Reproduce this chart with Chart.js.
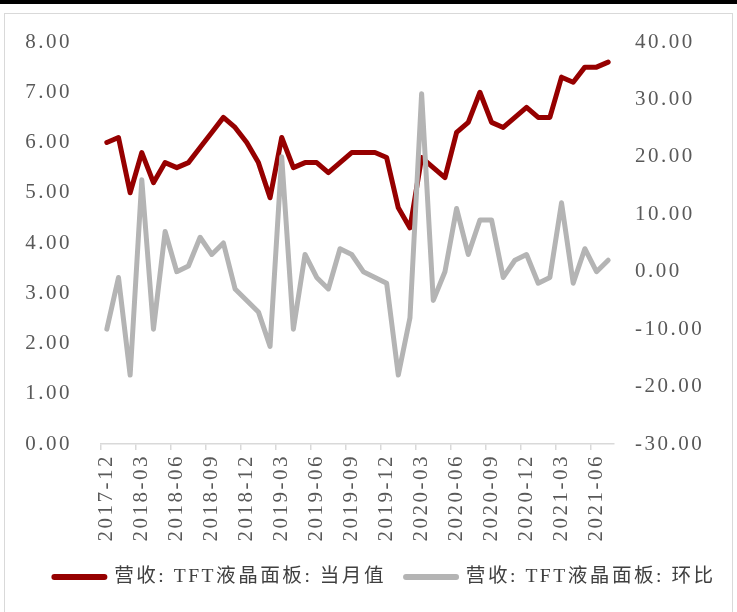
<!DOCTYPE html>
<html><head><meta charset="utf-8">
<script src="https://cdn.jsdelivr.net/npm/chart.js@4/dist/chart.umd.min.js"></script>
<style>
html,body{margin:0;padding:0;background:#fff;}
#wrap{position:relative;width:737px;height:612px;overflow:hidden;background:#fff;}
#topbar{position:absolute;left:0;top:0;width:737px;height:4px;background:#000;}
#frame{position:absolute;left:4px;top:13px;width:727px;height:640px;border:1.5px solid #d9d9d9;}
canvas{position:absolute;left:0;top:0;}
</style></head>
<body><div id="wrap"><div id="topbar"></div><div id="frame"></div><canvas id="c" width="737" height="612"></canvas></div>
<script>
const categories = [
  "2017-12","2018-01","2018-02","2018-03","2018-04","2018-05","2018-06","2018-07","2018-08","2018-09","2018-10","2018-11",
  "2018-12","2019-01","2019-02","2019-03","2019-04","2019-05","2019-06","2019-07","2019-08","2019-09","2019-10","2019-11",
  "2019-12","2020-01","2020-02","2020-03","2020-04","2020-05","2020-06","2020-07","2020-08","2020-09","2020-10","2020-11",
  "2020-12","2021-01","2021-02","2021-03","2021-04","2021-05","2021-06","2021-07"
];
const monthlyValue = [
  6.0, 6.1, 5.0, 5.8, 5.2, 5.6, 5.5, 5.6, 5.9, 6.2, 6.5, 6.3,
  6.0, 5.6, 4.9, 6.1, 5.5, 5.6, 5.6, 5.4, 5.6, 5.8, 5.8, 5.8,
  5.7, 4.7, 4.3, 5.7, 5.5, 5.3, 6.2, 6.4, 7.0, 6.4, 6.3, 6.5,
  6.7, 6.5, 6.5, 7.3, 7.2, 7.5, 7.5, 7.6
];
const momChange = [
  -10, -1, -18, 16, -10, 7, 0, 1, 6, 3, 5, -3,
  -5, -7, -13, 20, -10, 3, -1, -3, 4, 3, 0, -1,
  -2, -18, -8, 31, -5, 0, 11, 3, 9, 9, -1, 2,
  3, -2, -1, 12, -2, 4, 0, 2
];
const seriesNames = ["营收: TFT液晶面板: 当月值", "营收: TFT液晶面板: 环比"];
const leftTicks = {min: 0, max: 8, step: 1};
const rightTicks = {min: -30, max: 40, step: 10};

const RED = '#960000';
const GRAY = '#b4b4b4';
const TXT = '#595959';
const LEG_TXT = '#404040';
const AXIS = '#d9d9d9';
const LS = '2.5px';

const spacing = {
  id: 'spacing',
  beforeInit(c){ c.ctx.letterSpacing = LS; },
  beforeUpdate(c){ c.ctx.letterSpacing = LS; },
  beforeLayout(c){ c.ctx.letterSpacing = LS; },
  beforeDraw(c){ c.ctx.letterSpacing = LS; }
};

// place the legend row like the original (horizontal shift and text line)
const legendPlace = {
  id: 'legendPlace',
  afterLayout(c){
    const L = c.legend;
    if (!L) return;
    const p = L.options.labels.padding;
    const fs = L.options.labels.font.size;
    const h = L.height;
    L.top = 577 - p - fs / 2;
    L.bottom = L.top + h;
    L.left += 14;
    L.right += 14;
  }
};

const tickFont = {family: "'Liberation Serif', 'Noto Sans CJK SC', serif", size: 21};

new Chart(document.getElementById('c'), {
  type: 'line',
  data: {
    labels: categories,
    datasets: [
      {label: seriesNames[0], data: monthlyValue, yAxisID: 'y', borderColor: RED, backgroundColor: RED,
       borderWidth: 5, pointRadius: 0, tension: 0, borderJoinStyle: 'round', borderCapStyle: 'round', order: 1},
      {label: seriesNames[1], data: momChange, yAxisID: 'y1', borderColor: GRAY, backgroundColor: GRAY,
       borderWidth: 5, pointRadius: 0, tension: 0, borderJoinStyle: 'round', borderCapStyle: 'round', order: 0}
    ]
  },
  options: {
    responsive: false,
    animation: false,
    devicePixelRatio: 1,
    layout: {padding: {top: 42, left: 5, right: 0, bottom: 0}},
    plugins: {
      tooltip: {enabled: false},
      legend: {
        position: 'bottom',
        labels: {
          usePointStyle: true,
          pointStyleWidth: 50,
          boxHeight: 6,
          padding: 20,
          color: LEG_TXT,
          font: {family: "'Liberation Serif', 'Noto Sans CJK SC', serif", size: 19.6},
          generateLabels(chart){
            return chart.data.datasets.map((ds, i) => ({
              text: ds.label, fillStyle: ds.borderColor, strokeStyle: ds.borderColor,
              lineWidth: 6, lineCap: 'round', pointStyle: 'line', hidden: false,
              datasetIndex: i, fontColor: LEG_TXT
            }));
          }
        }
      }
    },
    scales: {
      x: {
        type: 'category',
        offset: true,
        afterFit(s){ s.height = 118.4; },
        border: {display: true, color: AXIS, width: 1.5},
        grid: {
          offset: true, drawOnChartArea: false, drawTicks: true, tickLength: 6,
          color: (ctx) => (ctx.index % 3 === 0 ? AXIS : 'rgba(0,0,0,0)'),
          tickColor: (ctx) => (ctx.index % 3 === 0 ? AXIS : 'rgba(0,0,0,0)'),
          lineWidth: 1.5
        },
        ticks: {
          autoSkip: false, minRotation: 90, maxRotation: 90, padding: 4,
          color: TXT, font: tickFont,
          callback(v, i){ return i % 3 === 0 ? categories[i] : ''; }
        }
      },
      y: {
        position: 'left',
        min: leftTicks.min, max: leftTicks.max,
        afterFit(s){ s.width = 96; },
        border: {display: false},
        grid: {display: false, drawTicks: false},
        ticks: {stepSize: leftTicks.step, padding: 29, color: TXT, font: tickFont,
                callback(v){ return v.toFixed(2); }}
      },
      y1: {
        position: 'right',
        min: rightTicks.min, max: rightTicks.max,
        afterFit(s){ s.width = 123; },
        border: {display: false},
        grid: {display: false, drawTicks: false},
        ticks: {stepSize: rightTicks.step, padding: 21, color: TXT, font: tickFont,
                callback(v){ return v.toFixed(2); }}
      }
    }
  },
  plugins: [spacing, legendPlace]
});
</script>
</body></html>
